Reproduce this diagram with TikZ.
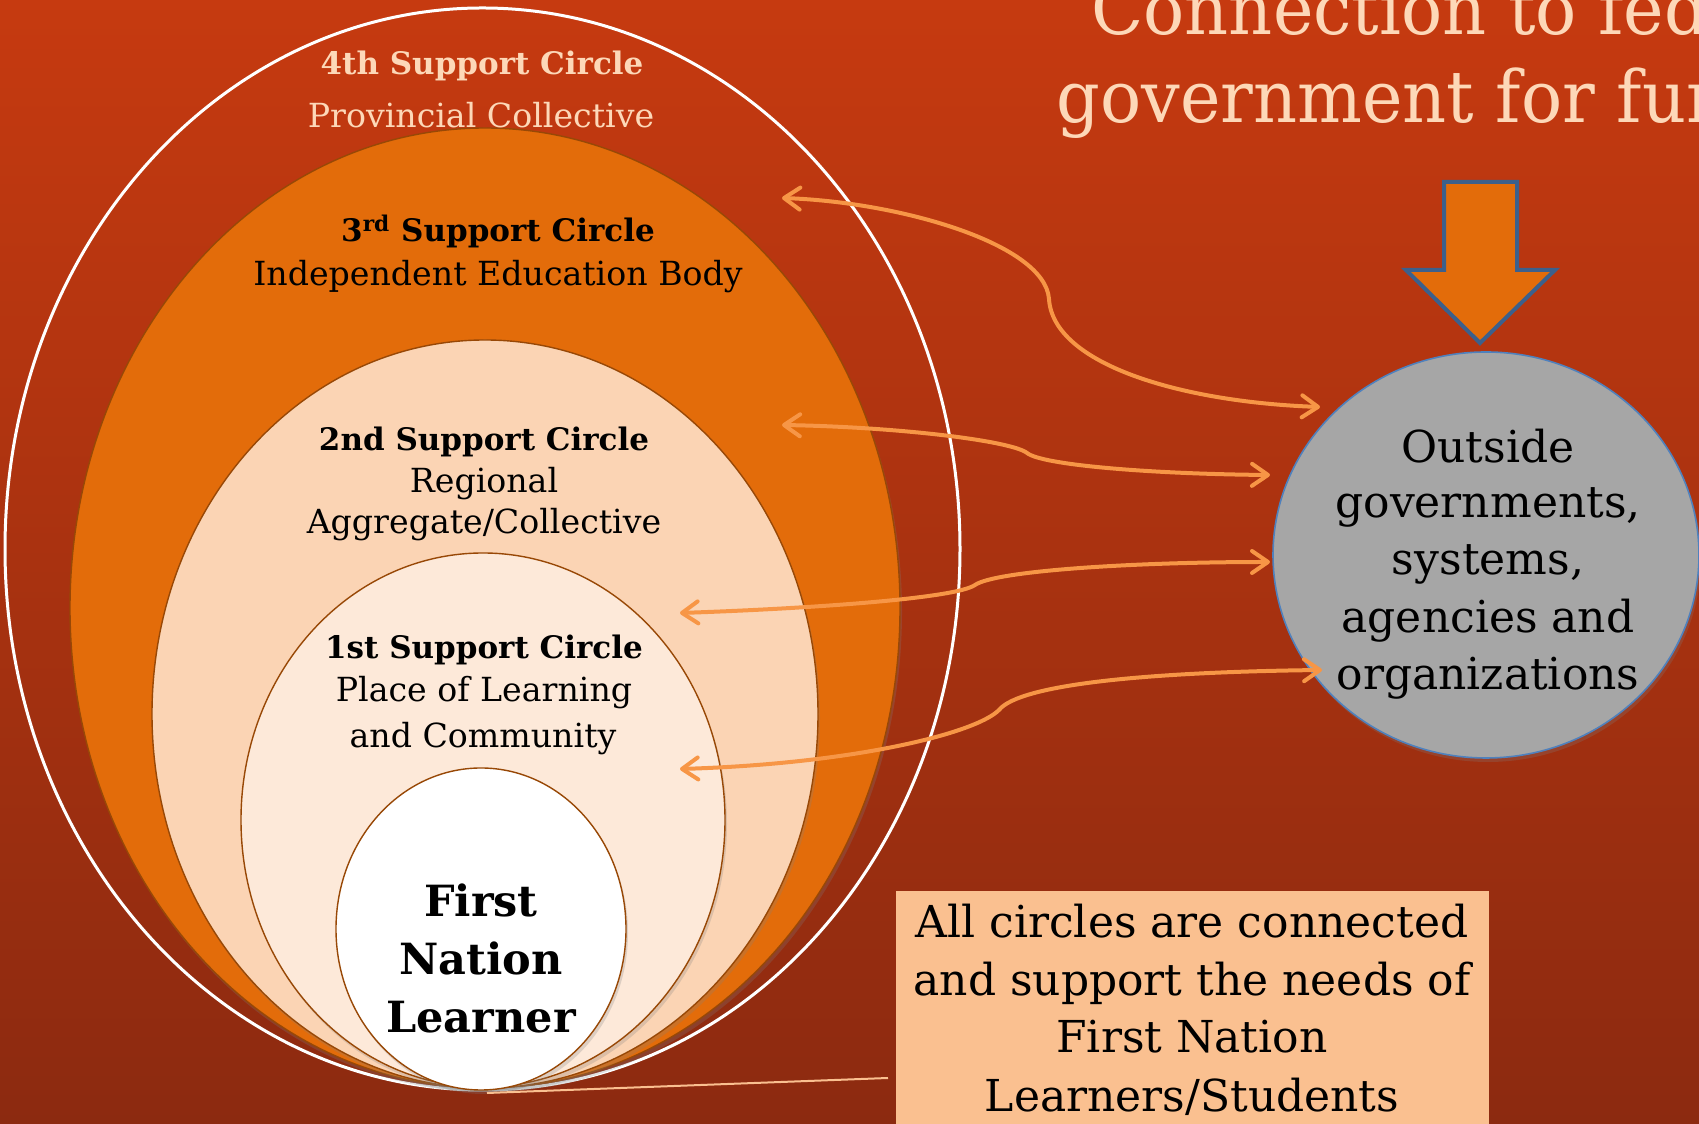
\documentclass[tikz,border=0pt]{standalone}
\usepackage{fontspec}
\setmainfont{DejaVu Serif}
\newfontfamily\titlefont[FakeStretch=0.95]{DejaVu Serif}
\usetikzlibrary{arrows.meta,shapes.geometric,shadows}
\definecolor{bgtop}{RGB}{198,58,16}
\definecolor{bgbot}{RGB}{140,42,16}
\definecolor{peachtxt}{RGB}{253,216,184}
\definecolor{ring3}{RGB}{227,108,10}
\definecolor{ring2}{RGB}{251,212,180}
\definecolor{ring1}{RGB}{253,233,217}
\definecolor{ringline}{RGB}{152,72,6}
\definecolor{outgray}{RGB}{166,166,166}
\definecolor{outblue}{RGB}{79,129,189}
\definecolor{arrowcol}{RGB}{247,150,70}
\definecolor{boxcol}{RGB}{250,192,144}
\definecolor{blockedge}{RGB}{60,96,140}
\tikzset{
  ring/.style={ellipse, inner sep=0, draw=ringline, line width=0.7pt,
    drop shadow={opacity=0.25, shadow xshift=1pt, shadow yshift=-2pt}},
  lbl/.style={anchor=base, inner sep=0, font=\fontsize{16.6}{19}\selectfont},
  lblb/.style={anchor=base, inner sep=0, font=\fontsize{15.5}{18}\selectfont\bfseries},
  big/.style={anchor=base, inner sep=0, font=\fontsize{21.5}{25}\selectfont\bfseries},
  outtxt/.style={anchor=base, inner sep=0, font=\fontsize{22}{26}\selectfont},
  titletxt/.style={anchor=base west, inner sep=0, text=peachtxt, font=\titlefont\fontsize{36}{40}\selectfont},
  link/.style={draw=arrowcol, line width=2pt,
    {Straight Barb[round,length=8pt,width=11pt]}-{Straight Barb[round,length=8pt,width=11pt]}}
}
\begin{document}
\begin{tikzpicture}[x=0.5pt,y=0.5pt]
\clip (0,0) rectangle (1699,1124);
\shade[top color=bgtop, bottom color=bgbot] (0,0) rectangle (1699,1124);

% title
\node[titletxt] (t1) at (1091,1089) {Connection to fed};
\node[titletxt] (t2) at (1056,1001) {government for fun};

% circles
\node[ellipse, inner sep=0, draw=white, line width=1.5pt, minimum width=477.5pt, minimum height=541pt] (E4) at (482.5,575) {};
\node[ring, fill=ring3, minimum width=415pt, minimum height=480pt] (E3) at (485,516) {};
\node[ring, fill=ring2, minimum width=333pt, minimum height=374pt] (E2) at (485,410) {};
\node[ring, fill=ring1, minimum width=242pt, minimum height=267pt] (E1) at (483,304) {};
\node[ring, fill=white, minimum width=145pt, minimum height=161pt] (E0) at (481,195) {};

% circle labels
\node[lblb, text=peachtxt] (l4a) at (482,1049) {4th Support Circle};
\node[lbl, text=peachtxt] (l4b) at (481,996) {Provincial Collective};
\node[lblb] (l3a) at (498,882) {3\textsuperscript{rd} Support Circle};
\node[lbl] (l3b) at (498,838) {Independent Education Body};
\node[lblb] (l2a) at (484,673) {2nd Support Circle};
\node[lbl] (l2b) at (484,631) {Regional};
\node[lbl] (l2c) at (484,590) {Aggregate/Collective};
\node[lblb] (l1a) at (484,465) {1st Support Circle};
\node[lbl] (l1b) at (484,422) {Place of Learning};
\node[lbl] (l1c) at (483,376) {and Community};
\node[big] (l0a) at (481,207) {First};
\node[big] (l0b) at (481,149) {Nation};
\node[big] (l0c) at (481,91) {Learner};

% outside circle
\node[ellipse, inner sep=0, fill=outgray, draw=outblue, line width=0.8pt, minimum width=213pt, minimum height=203pt,
  drop shadow={opacity=0.25, shadow xshift=1pt, shadow yshift=-2pt}] (out) at (1486,569) {};
\node[outtxt] (o1) at (1488,661) {Outside};
\node[outtxt] (o2) at (1488,606) {governments,};
\node[outtxt] (o3) at (1488,549) {systems,};
\node[outtxt] (o4) at (1488,491) {agencies and};
\node[outtxt] (o5) at (1488,434) {organizations};

% block arrow
\draw[fill=ring3, draw=blockedge, line width=2pt, line join=miter]
  (1444,942) -- (1517,942) -- (1517,854) -- (1555,854) -- (1480,781) -- (1406,854) -- (1444,854) -- cycle;

% note box
\node[fill=boxcol, inner sep=0, minimum width=296.5pt, minimum height=121.5pt] (box) at (1192.5,111.5) {};
\node[outtxt] (b1) at (1192,186) {All circles are connected};
\node[outtxt] (b2) at (1192,128) {and support the needs of};
\node[outtxt] (b3) at (1192,71) {First Nation};
\node[outtxt] (b4) at (1192,12) {Learners/Students};
\coordinate (ls) at (487,31);
\coordinate (le) at (888,46);
\draw[draw=boxcol, line width=1pt] (ls) -- (le);

% connectors
\coordinate (a1L) at (782,926); \coordinate (a1M) at (1049,825); \coordinate (a1R) at (1320,717);
\coordinate (a2L) at (782,699); \coordinate (a2M) at (1027,671); \coordinate (a2R) at (1270,649);
\coordinate (a3L) at (680,511); \coordinate (a3M) at (975,539); \coordinate (a3R) at (1270,562);
\coordinate (a4L) at (680,355); \coordinate (a4M) at (999,414); \coordinate (a4R) at (1322,454);
\draw[link] (a1L) .. controls (900,922) and (1045,880) .. (a1M) .. controls (1053,760) and (1180,722) .. (a1R);
\draw[link] (a2L) .. controls (900,697) and (1012,683) .. (a2M) .. controls (1042,659) and (1150,650) .. (a2R);
\draw[link] (a3L) .. controls (800,515) and (955,525) .. (a3M) .. controls (995,553) and (1130,562) .. (a3R);
\draw[link] (a4L) .. controls (850,360) and (975,390) .. (a4M) .. controls (1020,440) and (1150,452) .. (a4R);
\end{tikzpicture}
\end{document}
